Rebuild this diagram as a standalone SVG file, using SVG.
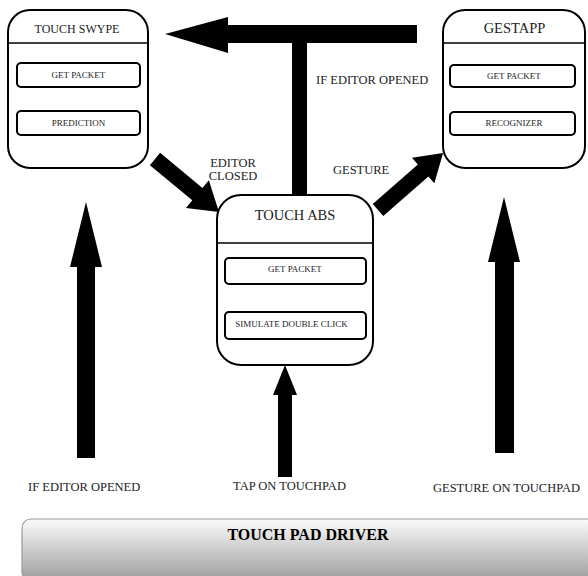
<svg xmlns="http://www.w3.org/2000/svg" width="588" height="576" viewBox="0 0 588 576">
<style>
.box{fill:#fff;stroke:#000;stroke-width:2}
.inner{fill:#fff;stroke:#000;stroke-width:2}
.div{stroke:#000;stroke-width:1.6}
text{font-family:"Liberation Serif","Times New Roman",serif;fill:#222}
.t{text-anchor:middle}
.s9{font-size:9px}
.s12{font-size:12.5px}
.arrow{fill:#000}
</style>
<defs>
<linearGradient id="g" x1="0" y1="0" x2="0" y2="1">
<stop offset="0" stop-color="#fbfbfb"/>
<stop offset="1" stop-color="#9c9c9c"/>
</linearGradient>
</defs>
<rect width="588" height="576" fill="#fff"/>

<g id="connectors">
<polygon class="arrow" points="165,34 228,17 228,25 417,25 417,43 307,43 307,194 292,194 292,43 228,43 228,53"/>
<polygon class="arrow" transform="translate(155,159) rotate(39.6)" points="0,-8 55,-8 55,-18 83,0 55,18 55,8 0,8"/>
<polygon class="arrow" transform="translate(378,210) rotate(-41.2)" points="0,-8 60,-8 60,-17 86.5,0 60,17 60,8 0,8"/>
<polygon class="arrow" points="86,202 102,267 95,267 95,458 77,458 77,267 70,267"/>
<polygon class="arrow" points="504,197 520,262 514,262 514,453 495,453 495,262 488,262"/>
<polygon class="arrow" points="285,365 297,395 292,395 292,477 278,477 278,395 273,395"/>
</g>

<g id="touch-swype">
<rect class="box" x="8" y="10" width="140" height="158" rx="22"/>
<line class="div" x1="8" y1="43" x2="148" y2="43"/>
<text class="t" x="77" y="33" font-size="12">TOUCH SWYPE</text>
<rect class="inner" x="17" y="63" width="123" height="24" rx="4"/>
<text class="t s9" x="78.5" y="77.5">GET PACKET</text>
<rect class="inner" x="17" y="111" width="123" height="24" rx="4"/>
<text class="t s9" x="78.5" y="125.5">PREDICTION</text>
</g>

<g id="gestapp">
<rect class="box" x="443" y="10" width="142" height="158" rx="22"/>
<line class="div" x1="443" y1="43" x2="585" y2="43"/>
<text class="t" x="514.5" y="33" font-size="14.5">GESTAPP</text>
<rect class="inner" x="450" y="65" width="125" height="22" rx="4"/>
<text class="t s9" x="514" y="79">GET PACKET</text>
<rect class="inner" x="450" y="112" width="125" height="23" rx="4"/>
<text class="t s9" x="514" y="126">RECOGNIZER</text>
</g>

<g id="touch-abs">
<rect class="box" x="217" y="195" width="156" height="170" rx="24"/>
<line class="div" x1="217" y1="243" x2="373" y2="243"/>
<text class="t" x="295" y="220" font-size="14.5">TOUCH ABS</text>
<rect class="inner" x="225" y="258" width="141" height="26" rx="4"/>
<text class="t s9" x="295" y="272">GET PACKET</text>
<rect class="inner" x="225" y="312" width="141" height="27" rx="4"/>
<text class="t s9" x="291.5" y="326.5">SIMULATE DOUBLE CLICK</text>
</g>

<g id="labels">
<text class="s12" x="316" y="84">IF EDITOR OPENED</text>
<text class="s12" x="333" y="174">GESTURE</text>
<text class="t s12" x="233" y="167">EDITOR</text>
<text class="t s12" x="233" y="180">CLOSED</text>
<text class="s12" x="28" y="491">IF EDITOR OPENED</text>
<text class="s12" x="233" y="490">TAP ON TOUCHPAD</text>
<text class="s12" x="433" y="492">GESTURE ON TOUCHPAD</text>
</g>

<g id="touch-pad-driver">
<rect x="22" y="519" width="580" height="62" rx="9" fill="url(#g)" stroke="#9a9a9a" stroke-width="1.2"/>
<text class="t" x="308" y="540" font-size="16" font-weight="bold" style="fill:#000">TOUCH PAD DRIVER</text>
</g>
</svg>
